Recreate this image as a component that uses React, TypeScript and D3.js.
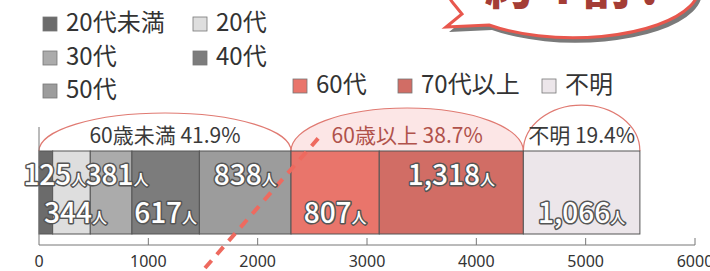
import React from 'react';
import * as d3 from 'd3';

// age groups and head counts (人)
const ageGroups = ['20代未満', '20代', '30代', '40代', '50代', '60代', '70代以上', '不明'];
const counts = [125, 344, 381, 617, 838, 807, 1318, 1066];
const barColors = ['#6b6b6b', '#dedede', '#ababab', '#7c7c7c', '#9c9c9c', '#e9756b', '#d16d65', '#ece6ea'];

// summary groups shown in the arcs above the bar
const groupNames = ['60歳未満', '60歳以上', '不明'];
const groupShares = [41.9, 38.7, 19.4];
const groupSize = [5, 2, 1];

const xTicks = [0, 1000, 2000, 3000, 4000, 5000, 6000];
const headline = '約4割!';

const W = 710, H = 271;
const barTop = 151, barBottom = 234, axisY = 245;
const FONT = '"Noto Sans CJK JP", "Noto Sans", sans-serif';

// legend layout: [x, y] of each swatch
const legendPos = [[43, 17], [193, 17], [43, 51], [193, 51], [43, 84], [293, 79], [398, 79], [542, 79]];
const labelDx = [9, 4, 6, 0, 0, 0, 0, 0];
const arcRy = [38, 43, 46];
const arcFill = ['#ffffff', '#fce6e6', '#ffffff'];
const arcText = ['#3a3a3a', '#b0524b', '#3a3a3a'];

export default function App() {
  React.useEffect(() => {
    document.body.style.margin = '0';
  }, []);

  const x = d3.scaleLinear().domain([0, 6000]).range([39, 695]);
  const ends = Array.from(d3.cumsum(counts));
  const starts = ends.map((e, i) => e - counts[i]);

  // group spans
  const groups = [];
  let k = 0;
  groupSize.forEach((n, g) => {
    groups.push({ name: groupNames[g], share: groupShares[g], from: starts[k], to: ends[k + n - 1] });
    k += n;
  });

  // speech bubble
  const cx = 573, rx = 126, ry = 50;
  const bubble = `M453,3 L462,14 L446,27 L489,25 A${rx},${ry} 0 1 0 453,3 Z`;

  return (
    <svg width={W} height={H} style={{ display: 'block', background: '#fff' }} fontFamily={FONT}>
      {/* headline bubble */}
      <path d={bubble} transform="translate(3,5)" fill="#7a7a7a" />
      <path d={bubble} fill="#fff" stroke="#e8574d" strokeWidth={3} />
      <text x={cx + 4} y={4} textAnchor="middle" fontSize={48} fontWeight={900}
        fill="#a43d36" letterSpacing={10}>{headline}</text>

      {/* legend */}
      {ageGroups.map((name, i) => (
        <g key={name}>
          <rect x={legendPos[i][0]} y={legendPos[i][1]} width={14} height={14}
            fill={barColors[i]} stroke="#777" strokeWidth={0.8} />
          <text x={legendPos[i][0] + 23} y={legendPos[i][1] + 14} fontSize={24} fill="#333">{name}</text>
        </g>
      ))}

      {/* arcs */}
      {groups.map((g, i) => {
        const x0 = x(g.from), x1 = x(g.to);
        return (
          <g key={g.name}>
            <path d={`M${x0},${barTop} A${(x1 - x0) / 2},${arcRy[i]} 0 0 1 ${x1},${barTop} Z`}
              fill={arcFill[i]} stroke="none" />
            <path d={`M${x0},${barTop} A${(x1 - x0) / 2},${arcRy[i]} 0 0 1 ${x1},${barTop}`}
              fill="none" stroke="#e07a72" strokeWidth={1.2} />
            <text x={(x0 + x1) / 2} y={143} textAnchor="middle" fontSize={21} fill={arcText[i]}>
              {`${g.name} ${g.share}%`}
            </text>
          </g>
        );
      })}

      {/* bar */}
      {counts.map((c, i) => (
        <rect key={ageGroups[i]} x={x(starts[i])} y={barTop} width={x(ends[i]) - x(starts[i])}
          height={barBottom - barTop} fill={barColors[i]} stroke="#555" strokeWidth={1} />
      ))}

      {/* axis */}
      <line x1={x(0)} x2={x(6000)} y1={axisY} y2={axisY} stroke="#777" />
      <line x1={x(0)} x2={x(0)} y1={127} y2={axisY} stroke="#777" />
      {xTicks.map(t => (
        <g key={t}>
          {t > 0 && <line x1={x(t)} x2={x(t)} y1={axisY - 7} y2={axisY} stroke="#777" />}
          <text x={x(t)} y={267} textAnchor="middle" fontSize={16} fill="#333"
            fontFamily='"Noto Sans", sans-serif'>{t}</text>
        </g>
      ))}

      {/* dashed pointer */}
      <line x1={205} y1={268} x2={322} y2={134} stroke="#ee6a5f" strokeWidth={4} strokeDasharray="10 8" />

      {/* value labels */}
      {counts.map((c, i) => {
        const cxL = (x(starts[i]) + x(ends[i])) / 2 + labelDx[i];
        const y = i % 2 === 0 ? 185 : 223;
        return (
          <text key={ageGroups[i]} x={cxL} y={y} textAnchor="middle" fill="#fff" stroke="#555"
            strokeWidth={3} paintOrder="stroke" strokeLinejoin="round" fontWeight={500}>
            <tspan fontSize={28}>{d3.format(',')(c)}</tspan>
            <tspan fontSize={15}>人</tspan>
          </text>
        );
      })}
    </svg>
  );
}
